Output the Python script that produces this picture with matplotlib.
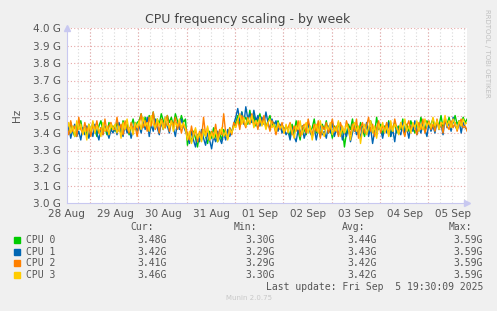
import matplotlib
matplotlib.use("agg")
import matplotlib.pyplot as plt
from matplotlib.patches import Rectangle
import numpy as np

# ---- data (GHz), one sample per hour from 28 Aug 00:00 ----
step_hours = 1
day_labels = ["28 Aug", "29 Aug", "30 Aug", "31 Aug", "01 Sep",
              "02 Sep", "03 Sep", "04 Sep", "05 Sep"]
names = ["CPU 0", "CPU 1", "CPU 2", "CPU 3"]
colors = ["#00CC00", "#0066B3", "#FF8000", "#FFCC00"]

cpu0 = [3.44, 3.40, 3.46, 3.41, 3.38, 3.45, 3.42, 3.47, 3.40, 3.43, 3.39, 3.45,
        3.41, 3.46, 3.42, 3.38, 3.44, 3.47, 3.41, 3.43, 3.39, 3.46, 3.42, 3.44,
        3.41, 3.46, 3.43, 3.40, 3.47, 3.42, 3.45, 3.39, 3.44, 3.48, 3.42, 3.46,
        3.47, 3.51, 3.45, 3.49, 3.43, 3.50, 3.46, 3.52, 3.44, 3.48, 3.45, 3.51,
        3.47, 3.43, 3.50, 3.46, 3.49, 3.44, 3.51, 3.47, 3.45, 3.50, 3.46, 3.48,
        3.33, 3.39, 3.35, 3.41, 3.37, 3.32, 3.40, 3.36, 3.42, 3.38, 3.34, 3.41,
        3.37, 3.43, 3.38, 3.35, 3.40, 3.36, 3.42, 3.39, 3.37, 3.43, 3.40, 3.44,
        3.46, 3.50, 3.44, 3.52, 3.47, 3.49, 3.45, 3.53, 3.46, 3.50, 3.44, 3.48,
        3.51, 3.45, 3.49, 3.43, 3.47, 3.50, 3.44, 3.46, 3.42, 3.47, 3.43, 3.45, 3.41, 3.44,
        3.42, 3.38, 3.45, 3.40, 3.47, 3.41, 3.36, 3.44, 3.42, 3.39, 3.46, 3.41,
        3.43, 3.48, 3.40, 3.44, 3.38, 3.45, 3.42, 3.47, 3.40, 3.43, 3.37, 3.44,
        3.41, 3.46, 3.39, 3.43, 3.32, 3.40, 3.45, 3.42, 3.48, 3.41, 3.44, 3.39,
        3.46, 3.42, 3.38, 3.45, 3.41, 3.47, 3.43, 3.40, 3.49, 3.42, 3.45, 3.39,
        3.44, 3.41, 3.47, 3.38, 3.43, 3.46, 3.40, 3.44, 3.42, 3.48, 3.39, 3.45,
        3.41, 3.47, 3.43, 3.40, 3.46, 3.42, 3.49, 3.44, 3.41, 3.47, 3.43, 3.45,
        3.48, 3.42, 3.46, 3.44, 3.50, 3.43, 3.47, 3.45, 3.49, 3.44, 3.46, 3.50,
        3.45, 3.47, 3.44, 3.49, 3.46, 3.48]
cpu1 = [3.40, 3.44, 3.37, 3.42, 3.45, 3.38, 3.41, 3.36, 3.43, 3.39, 3.44, 3.37,
        3.42, 3.38, 3.45, 3.40, 3.36, 3.43, 3.39, 3.44, 3.41, 3.37, 3.42, 3.40,
        3.44, 3.39, 3.46, 3.41, 3.38, 3.45, 3.40, 3.43, 3.37, 3.42, 3.46, 3.41,
        3.44, 3.40, 3.47, 3.42, 3.49, 3.38, 3.45, 3.41, 3.48, 3.43, 3.39, 3.46,
        3.42, 3.49, 3.44, 3.40, 3.47, 3.43, 3.38, 3.46, 3.42, 3.48, 3.44, 3.41,
        3.38, 3.34, 3.41, 3.36, 3.32, 3.39, 3.35, 3.42, 3.37, 3.33, 3.40, 3.36,
        3.31, 3.38, 3.35, 3.41, 3.37, 3.34, 3.40, 3.36, 3.42, 3.38, 3.41, 3.45,
        3.49, 3.54, 3.47, 3.52, 3.45, 3.55, 3.48, 3.51, 3.46, 3.53, 3.47, 3.50,
        3.44, 3.49, 3.45, 3.52, 3.46, 3.42, 3.48, 3.44, 3.47, 3.41, 3.45, 3.40, 3.43, 3.39,
        3.41, 3.36, 3.43, 3.38, 3.35, 3.42, 3.39, 3.44, 3.37, 3.41, 3.46, 3.40,
        3.38, 3.43, 3.36, 3.42, 3.45, 3.39, 3.41, 3.37, 3.44, 3.40, 3.46, 3.38,
        3.42, 3.39, 3.44, 3.36, 3.41, 3.38, 3.43, 3.35, 3.40, 3.45, 3.39, 3.42,
        3.37, 3.44, 3.40, 3.46, 3.38, 3.43, 3.34, 3.41, 3.39, 3.45, 3.42, 3.37,
        3.43, 3.40, 3.46, 3.38, 3.42, 3.35, 3.44, 3.41, 3.39, 3.46, 3.40, 3.43,
        3.37, 3.44, 3.41, 3.47, 3.39, 3.43, 3.40, 3.45, 3.42, 3.38, 3.46, 3.41,
        3.44, 3.40, 3.47, 3.42, 3.45, 3.39, 3.48, 3.43, 3.46, 3.41, 3.49, 3.44,
        3.42, 3.47, 3.40, 3.46, 3.43, 3.42]
cpu2 = [3.43, 3.39, 3.47, 3.41, 3.44, 3.38, 3.49, 3.42, 3.40, 3.46, 3.41, 3.44,
        3.38, 3.45, 3.42, 3.47, 3.40, 3.43, 3.39, 3.48, 3.41, 3.44, 3.46, 3.42,
        3.42, 3.49, 3.41, 3.45, 3.39, 3.47, 3.43, 3.40, 3.46, 3.42, 3.44, 3.38,
        3.45, 3.51, 3.43, 3.47, 3.41, 3.49, 3.44, 3.52, 3.42, 3.46, 3.40, 3.48,
        3.45, 3.43, 3.50, 3.41, 3.47, 3.44, 3.49, 3.42, 3.46, 3.40, 3.45, 3.43,
        3.40, 3.36, 3.44, 3.38, 3.42, 3.35, 3.41, 3.37, 3.49, 3.39, 3.43, 3.36,
        3.41, 3.38, 3.45, 3.37, 3.42, 3.39, 3.51, 3.40, 3.37, 3.43, 3.39, 3.46,
        3.44, 3.48, 3.42, 3.50, 3.46, 3.43, 3.49, 3.45, 3.51, 3.44, 3.47, 3.42,
        3.48, 3.45, 3.50, 3.43, 3.46, 3.41, 3.47, 3.44, 3.39, 3.45, 3.42, 3.46, 3.40, 3.43,
        3.43, 3.46, 3.39, 3.44, 3.41, 3.47, 3.38, 3.43, 3.45, 3.40, 3.48, 3.42,
        3.39, 3.45, 3.41, 3.47, 3.37, 3.44, 3.42, 3.46, 3.40, 3.43, 3.48, 3.41,
        3.44, 3.38, 3.46, 3.42, 3.40, 3.47, 3.43, 3.39, 3.45, 3.41, 3.48, 3.37,
        3.43, 3.46, 3.40, 3.44, 3.49, 3.41, 3.45, 3.38, 3.43, 3.47, 3.40, 3.44,
        3.42, 3.46, 3.39, 3.45, 3.41, 3.48, 3.43, 3.40, 3.46, 3.42, 3.38, 3.44,
        3.47, 3.41, 3.45, 3.43, 3.39, 3.46, 3.42, 3.48, 3.40, 3.44, 3.47, 3.42,
        3.45, 3.41, 3.48, 3.43, 3.46, 3.40, 3.49, 3.44, 3.42, 3.47, 3.43, 3.46,
        3.41, 3.45, 3.48, 3.43, 3.44, 3.41]
cpu3 = [3.41, 3.46, 3.40, 3.44, 3.38, 3.47, 3.42, 3.45, 3.39, 3.43, 3.36, 3.45,
        3.41, 3.47, 3.40, 3.44, 3.42, 3.38, 3.46, 3.41, 3.44, 3.39, 3.45, 3.42,
        3.45, 3.40, 3.44, 3.37, 3.46, 3.42, 3.48, 3.41, 3.44, 3.39, 3.46, 3.43,
        3.47, 3.42, 3.49, 3.44, 3.46, 3.41, 3.50, 3.45, 3.43, 3.48, 3.44, 3.47,
        3.42, 3.49, 3.45, 3.43, 3.47, 3.41, 3.46, 3.44, 3.48, 3.43, 3.46, 3.42,
        3.36, 3.41, 3.34, 3.39, 3.43, 3.37, 3.40, 3.35, 3.42, 3.38, 3.44, 3.36,
        3.40, 3.37, 3.42, 3.35, 3.39, 3.43, 3.38, 3.41, 3.36, 3.42, 3.40, 3.44,
        3.43, 3.47, 3.51, 3.45, 3.49, 3.44, 3.48, 3.46, 3.50, 3.43, 3.47, 3.45,
        3.49, 3.44, 3.47, 3.42, 3.46, 3.48, 3.43, 3.45, 3.41, 3.46, 3.43, 3.44, 3.40, 3.45,
        3.40, 3.45, 3.41, 3.37, 3.44, 3.42, 3.47, 3.39, 3.43, 3.46, 3.40, 3.44,
        3.36, 3.42, 3.45, 3.40, 3.47, 3.41, 3.38, 3.44, 3.42, 3.46, 3.39, 3.43,
        3.41, 3.47, 3.38, 3.44, 3.40, 3.45, 3.42, 3.36, 3.43, 3.46, 3.41, 3.44,
        3.34, 3.42, 3.45, 3.39, 3.43, 3.47, 3.40, 3.44, 3.37, 3.45, 3.42, 3.46,
        3.40, 3.44, 3.38, 3.47, 3.41, 3.45, 3.43, 3.39, 3.46, 3.42, 3.48, 3.41,
        3.44, 3.40, 3.46, 3.43, 3.47, 3.41, 3.45, 3.42, 3.48, 3.44, 3.46, 3.43,
        3.49, 3.44, 3.47, 3.42, 3.46, 3.45, 3.50, 3.44, 3.47, 3.43, 3.48, 3.45,
        3.42, 3.47, 3.44, 3.48, 3.45, 3.46]
series = [cpu0, cpu1, cpu2, cpu3]

cur = ["3.48G", "3.42G", "3.41G", "3.46G"]
mins = ["3.30G", "3.29G", "3.29G", "3.30G"]
avgs = ["3.44G", "3.43G", "3.42G", "3.42G"]
maxs = ["3.59G", "3.59G", "3.59G", "3.59G"]

W, H = 497, 311
fig = plt.figure(figsize=(W / 100, H / 100), dpi=100, facecolor="#F0F0F0")

def fx(x):
    return x / W

def fy(y):
    return 1 - y / H

left, right, top, bottom = 66.7, 466.7, 28.0, 203.0
ax = fig.add_axes([fx(left), fy(bottom), fx(right - left), (bottom - top) / H])
ax.set_facecolor("white")

px_per_day = 48.3
xmax = (right - left) / px_per_day

# grid: minor every 6h, major (red) every day
for g in np.arange(0.233, xmax, 0.25):
    ax.axvline(g, color="#D8D8D8", lw=0.8, ls=(0, (1, 2)), zorder=0)
for g in np.arange(0.483, xmax, 1.0):
    ax.axvline(g, color="#E8A8A8", lw=0.8, ls=(0, (1, 2)), zorder=0)
for g in np.arange(3.1, 4.01, 0.1):
    ax.axhline(g, color="#E8A8A8", lw=0.8, ls=(0, (1, 2)), zorder=0)

for s, c in zip(series, colors):
    t = np.arange(len(s)) * step_hours / 24.0
    ax.plot(t, s, color=c, lw=1.0, zorder=2)

ax.set_xlim(0, xmax)
ax.set_ylim(3.0, 4.0)
ax.set_xticks(range(len(day_labels)))
ax.set_xticklabels(day_labels)
yt = np.arange(3.0, 4.01, 0.1)
ax.set_yticks(yt)
ax.set_yticklabels(["%.1f G" % v for v in yt])
ax.tick_params(length=0, labelsize=7.5, labelcolor="#555555", pad=4)
for sp in ["top", "right"]:
    ax.spines[sp].set_visible(False)
for sp in ["left", "bottom"]:
    ax.spines[sp].set_color("#C8C8F0")
    ax.spines[sp].set_linewidth(0.8)
ax.plot(1, 0, ">", transform=ax.transAxes, color="#C8C8F0", ms=4, clip_on=False)
ax.plot(0, 1, "^", transform=ax.transAxes, color="#C8C8F0", ms=4, clip_on=False)
ax.set_ylabel("Hz", fontsize=7.5, color="#555555", labelpad=8)

fig.text(fx(248), fy(19), "CPU frequency scaling - by week", ha="center",
         va="center", fontsize=9, color="#444444")
fig.text(fx(487), fy(53), "RRDTOOL / TOBI OETIKER", rotation=270, ha="center",
         va="center", fontsize=5, color="#C0C0C0")

# legend block
mono = dict(family="DejaVu Sans Mono", fontsize=7, color="#555555", va="center")
fig.text(fx(154), fy(227.5), "Cur:", ha="right", **mono)
fig.text(fx(257), fy(227.5), "Min:", ha="right", **mono)
fig.text(fx(365), fy(227.5), "Avg:", ha="right", **mono)
fig.text(fx(472), fy(227.5), "Max:", ha="right", **mono)
rows = [240, 251.7, 263.3, 275]
for i, y in enumerate(rows):
    fig.patches.append(Rectangle((fx(14), fy(y + 3)), 6 / W, 6 / H,
                                 transform=fig.transFigure, color=colors[i]))
    fig.text(fx(26), fy(y), names[i], ha="left", **mono)
    fig.text(fx(167), fy(y), cur[i], ha="right", **mono)
    fig.text(fx(275), fy(y), mins[i], ha="right", **mono)
    fig.text(fx(377), fy(y), avgs[i], ha="right", **mono)
    fig.text(fx(483), fy(y), maxs[i], ha="right", **mono)
fig.text(fx(483), fy(287), "Last update: Fri Sep  5 19:30:09 2025", ha="right", **mono)
fig.text(fx(249), fy(298.5), "Munin 2.0.75", ha="center", va="center",
         fontsize=5, color="#C8C8C8")

fig.savefig("out.png", dpi=100, facecolor=fig.get_facecolor())
